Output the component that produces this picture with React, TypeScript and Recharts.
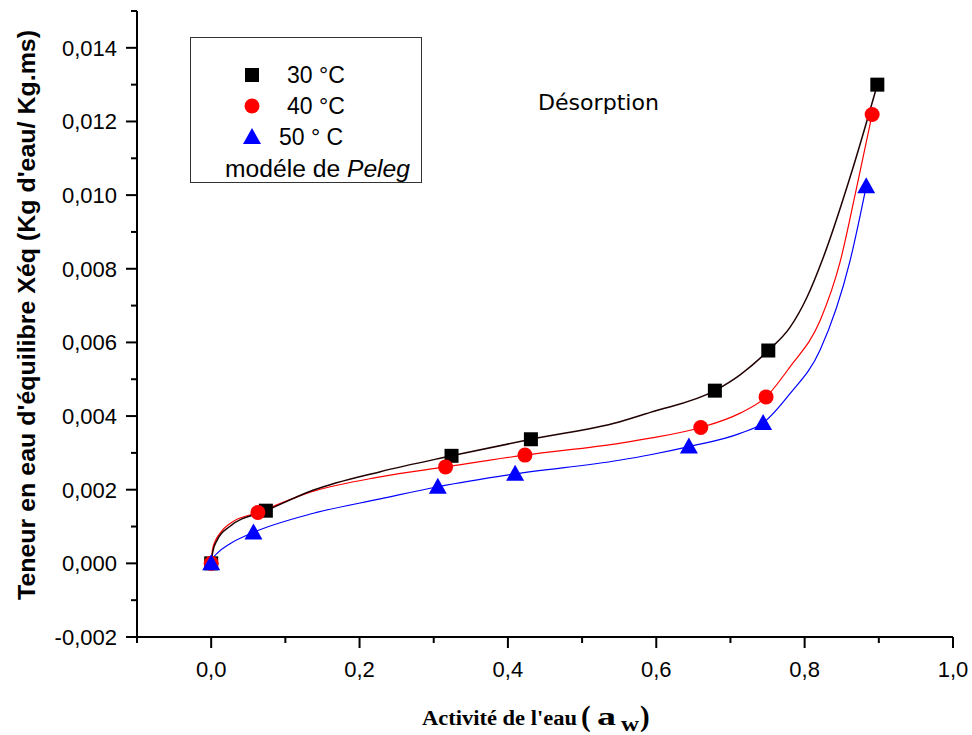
import { ComposedChart, Line, Scatter, XAxis, YAxis } from "recharts";

// measured points (aw, Xéq)
const aw30 = [0, 0.0737, 0.324, 0.431, 0.679, 0.751, 0.898];
const xeq30 = [0, 0.00143, 0.00292, 0.00337, 0.00469, 0.00578, 0.013];
const aw40 = [0, 0.063, 0.316, 0.423, 0.66, 0.748, 0.891];
const xeq40 = [0, 0.00138, 0.00262, 0.00294, 0.00369, 0.00452, 0.01219];
const aw50 = [0, 0.057, 0.3055, 0.4097, 0.644, 0.744, 0.883];
const xeq50 = [0, 0.00084, 0.00208, 0.00243, 0.00317, 0.00381, 0.01024];

// Peleg model curves
const fitAw30 = [0, 0.002, 0.008, 0.025, 0.074, 0.138, 0.228, 0.324, 0.431, 0.55, 0.592, 0.679, 0.713, 0.751, 0.78, 0.803, 0.825, 0.863, 0.898];
const fitX30 = [0, 0.0003, 0.00063, 0.001, 0.00143, 0.00199, 0.00249, 0.00292, 0.00337, 0.00384, 0.0041, 0.00469, 0.00512, 0.00578, 0.0064, 0.00722, 0.0083, 0.0106, 0.013];
const fitAw40 = [0, 0.002, 0.012, 0.026, 0.063, 0.138, 0.228, 0.316, 0.423, 0.55, 0.592, 0.66, 0.713, 0.748, 0.78, 0.821, 0.848, 0.87, 0.891];
const fitX40 = [0, 0.0004, 0.00082, 0.00109, 0.00138, 0.00196, 0.00235, 0.00262, 0.00294, 0.00326, 0.0034, 0.00369, 0.00408, 0.00452, 0.00533, 0.0066, 0.0082, 0.0102, 0.01219];
const fitAw50 = [0, 0.002, 0.008, 0.026, 0.057, 0.138, 0.228, 0.3055, 0.4097, 0.55, 0.592, 0.644, 0.713, 0.744, 0.78, 0.821, 0.861, 0.883];
const fitX50 = [0, 0.00012, 0.00027, 0.00054, 0.00084, 0.00136, 0.00175, 0.00208, 0.00243, 0.0028, 0.00295, 0.00317, 0.00353, 0.00381, 0.0046, 0.0058, 0.0082, 0.01024];

const xTicks = [-0.1, 0, 0.1, 0.2, 0.3, 0.4, 0.5, 0.6, 0.7, 0.8, 0.9, 1.0];
const yTicks = [-0.002, -0.001, 0, 0.001, 0.002, 0.003, 0.004, 0.005, 0.006, 0.007, 0.008, 0.009, 0.01, 0.011, 0.012, 0.013, 0.014, 0.015];

const zip = (a: number[], b: number[]) => a.map((v, i) => ({ aw: v, xeq: b[i] }));

const pts30 = zip(aw30, xeq30);
const pts40 = zip(aw40, xeq40);
const pts50 = zip(aw50, xeq50);
const fit30 = zip(fitAw30, fitX30);
const fit40 = zip(fitAw40, fitX40);
const fit50 = zip(fitAw50, fitX50);

const sans = "'Liberation Sans', Arial, sans-serif";

const XTick = (p: any) => {
  const v = p.payload.value;
  const major = Math.round(v * 10) % 2 === 0;
  return (
    <g>
      <line x1={p.x} x2={p.x} y1={p.y} y2={p.y + (major ? 11 : 6)} stroke="#000" strokeWidth={2} />
      {major && (
        <text x={p.x} y={p.y + 40} textAnchor="middle" fontSize={22} fontFamily={sans} fill="#000">
          {v.toFixed(1).replace(".", ",")}
        </text>
      )}
    </g>
  );
};

const YTick = (p: any) => {
  const v = p.payload.value;
  const major = Math.round(v * 1000) % 2 === 0;
  return (
    <g>
      <line x1={p.x} x2={p.x - (major ? 11 : 6)} y1={p.y} y2={p.y} stroke="#000" strokeWidth={2} />
      {major && (
        <text x={p.x - 20} y={p.y + 8} textAnchor="end" fontSize={22} fontFamily={sans} fill="#000">
          {v.toFixed(3).replace(".", ",")}
        </text>
      )}
    </g>
  );
};

const Square = (p: any) => <rect x={p.cx - 7} y={p.cy - 7} width={14} height={14} fill="#000" />;
const Dot = (p: any) => <circle cx={p.cx} cy={p.cy} r={7.5} fill="#ff0000" />;
const Tri = (p: any) => (
  <polygon points={`${p.cx},${p.cy - 9} ${p.cx - 9},${p.cy + 7} ${p.cx + 9},${p.cy + 7}`} fill="#0000ff" />
);

export default function App() {
  return (
    <div style={{ position: "absolute", left: 0, top: 0, width: 972, height: 735, background: "#fff" }}>
      <ComposedChart width={972} height={735} margin={{ top: 11, right: 19, bottom: 38, left: 37 }}>
        <XAxis
          dataKey="aw"
          type="number"
          domain={[-0.1, 1.0]}
          ticks={xTicks}
          interval={0}
          allowDataOverflow
          height={60}
          tickSize={0}
          tickMargin={0}
          tickLine={false}
          axisLine={{ stroke: "#000", strokeWidth: 2 }}
          tick={(p: any) => <XTick {...p} />}
        />
        <YAxis
          type="number"
          domain={[-0.002, 0.015]}
          ticks={yTicks}
          interval={0}
          allowDataOverflow
          width={100}
          tickSize={0}
          tickMargin={0}
          tickLine={false}
          axisLine={{ stroke: "#000", strokeWidth: 2 }}
          tick={(p: any) => <YTick {...p} />}
        />
        <Line data={fit50} dataKey="xeq" type="monotone" stroke="#0000ff" strokeWidth={1.2} dot={false} isAnimationActive={false} />
        <Line data={fit40} dataKey="xeq" type="monotone" stroke="#ff0000" strokeWidth={1.2} dot={false} isAnimationActive={false} />
        <Line data={fit30} dataKey="xeq" type="monotone" stroke="#200000" strokeWidth={1.5} dot={false} isAnimationActive={false} />
        <Scatter data={pts30} dataKey="xeq" shape={Square} isAnimationActive={false} />
        <Scatter data={pts40} dataKey="xeq" shape={Dot} isAnimationActive={false} />
        <Scatter data={pts50} dataKey="xeq" shape={Tri} isAnimationActive={false} />
      </ComposedChart>

      <svg width={972} height={735} style={{ position: "absolute", left: 0, top: 0, pointerEvents: "none" }}>
        {/* legend */}
        <rect x={190.5} y={37.5} width={231} height={145} fill="none" stroke="#333" strokeWidth={1} />
        <rect x={245} y={68} width={14} height={14} fill="#000" />
        <circle cx={252} cy={106} r={7.5} fill="#ff0000" />
        <polygon points="252,128 243,144 261,144" fill="#0000ff" />
        <g fontFamily={sans} fontSize={23} fill="#000">
          <text x={287} y={83}>30 °C</text>
          <text x={287} y={114}>40 °C</text>
          <text x={279} y={145}>50 ° C</text>
          <text x={225} y={177} textLength={185} lengthAdjust="spacingAndGlyphs">
            modéle de <tspan fontStyle="italic">Peleg</tspan>
          </text>
        </g>
        <text x={538} y={109.5} fontFamily="'DejaVu Sans', Verdana, sans-serif" fontSize={21} textLength={121} lengthAdjust="spacingAndGlyphs">
          Désorption
        </text>

        {/* axis titles */}
        <text
          x={35}
          y={315}
          transform="rotate(-90, 35, 315)"
          textAnchor="middle"
          fontFamily={sans}
          fontWeight="bold"
          fontSize={24}
          textLength={570}
          lengthAdjust="spacingAndGlyphs"
        >
          Teneur en eau d'équilibre Xéq (Kg d'eau/ Kg.ms)
        </text>
        <g fontFamily="'Liberation Serif', 'Times New Roman', serif" fontWeight="bold" fill="#000">
          <text x={422} y={725} fontSize={20} textLength={155} lengthAdjust="spacingAndGlyphs">
            Activité de l'eau
          </text>
          <text x={581} y={726} fontSize={29}>(</text>
          <text x={597} y={725} fontSize={26} textLength={19} lengthAdjust="spacingAndGlyphs">a</text>
          <text x={621} y={731} fontSize={20} textLength={18} lengthAdjust="spacingAndGlyphs">w</text>
          <text x={640} y={726} fontSize={29}>)</text>
        </g>
      </svg>
    </div>
  );
}
